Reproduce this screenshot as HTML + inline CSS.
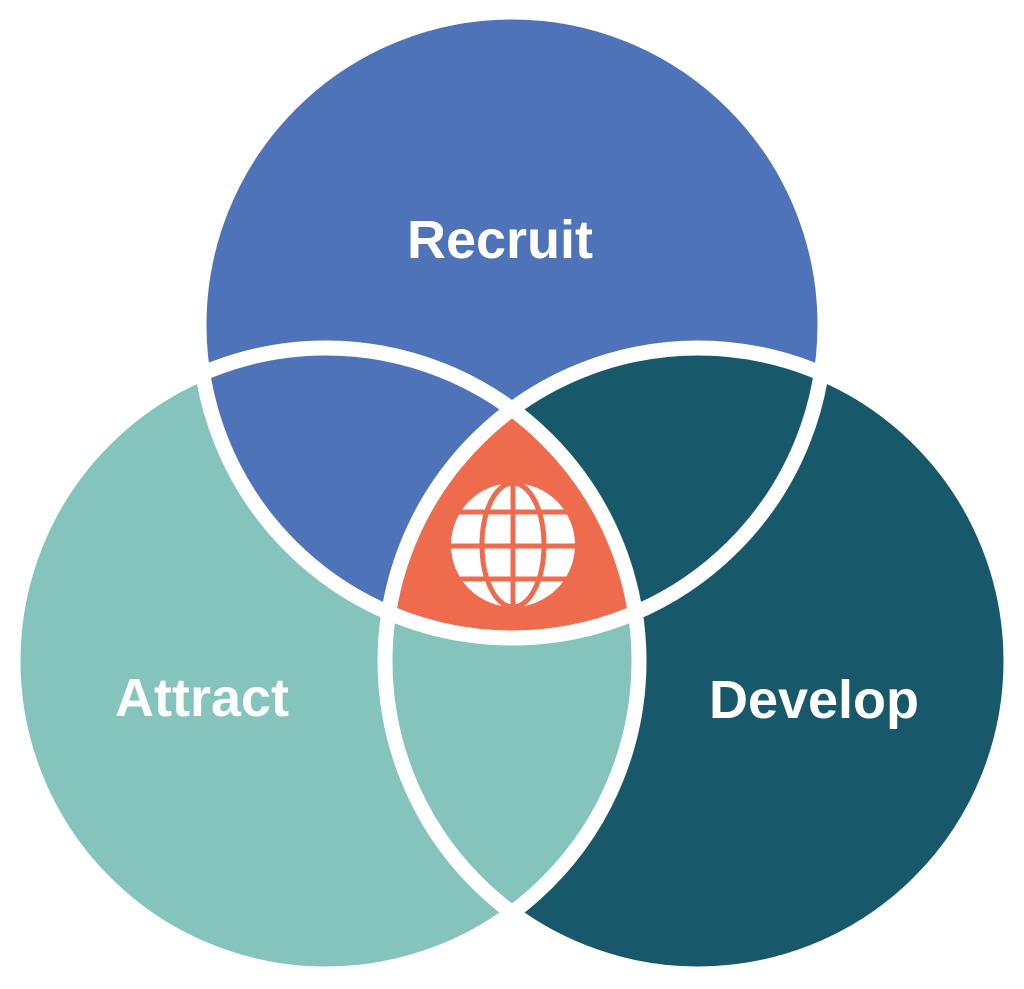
<!DOCTYPE html>
<html><head><meta charset="utf-8"><style>html,body{margin:0;padding:0;background:#fff}svg{display:block}</style></head>
<body>
<svg width="1024" height="989" viewBox="0 0 1024 989" xmlns="http://www.w3.org/2000/svg">
<defs>
<clipPath id="cR"><circle cx="512" cy="325" r="313"/></clipPath>
<clipPath id="cA"><circle cx="326" cy="661" r="313"/></clipPath>
<clipPath id="cD"><circle cx="698" cy="661" r="313"/></clipPath>
</defs>
<circle cx="698" cy="661" r="313" fill="#17596A"/>
<circle cx="326" cy="661" r="313" fill="#84C4BD"/>
<circle cx="512" cy="325" r="313" fill="#4E73B8"/>
<g clip-path="url(#cR)"><circle cx="698" cy="661" r="313" fill="#17596A"/></g>
<g clip-path="url(#cD)"><circle cx="326" cy="661" r="313" fill="#84C4BD"/></g>
<g clip-path="url(#cR)"><g clip-path="url(#cA)"><circle cx="698" cy="661" r="313" fill="#EE6B4D"/></g></g>
<g fill="none" stroke="#fff" stroke-width="15">
<circle cx="698" cy="661" r="313"/>
<circle cx="326" cy="661" r="313"/>
<circle cx="512" cy="325" r="313"/>
</g>
<circle cx="513" cy="545" r="62" fill="#fff"/>
<g fill="none" stroke="#EE6B4D" stroke-width="5">
<line x1="450" y1="512" x2="576" y2="512"/>
<line x1="450" y1="546" x2="576" y2="546"/>
<line x1="450" y1="579" x2="576" y2="579"/>
<line x1="513" y1="482" x2="513" y2="608"/>
<ellipse cx="513" cy="545" rx="31" ry="62"/>
</g>
<g font-family="Liberation Sans, sans-serif" font-size="54" font-weight="bold" fill="#fff" text-anchor="middle">
<text x="500" y="258">Recruit</text>
<text x="202" y="716">Attract</text>
<text x="814" y="718">Develop</text>
</g>
</svg>
</body></html>
